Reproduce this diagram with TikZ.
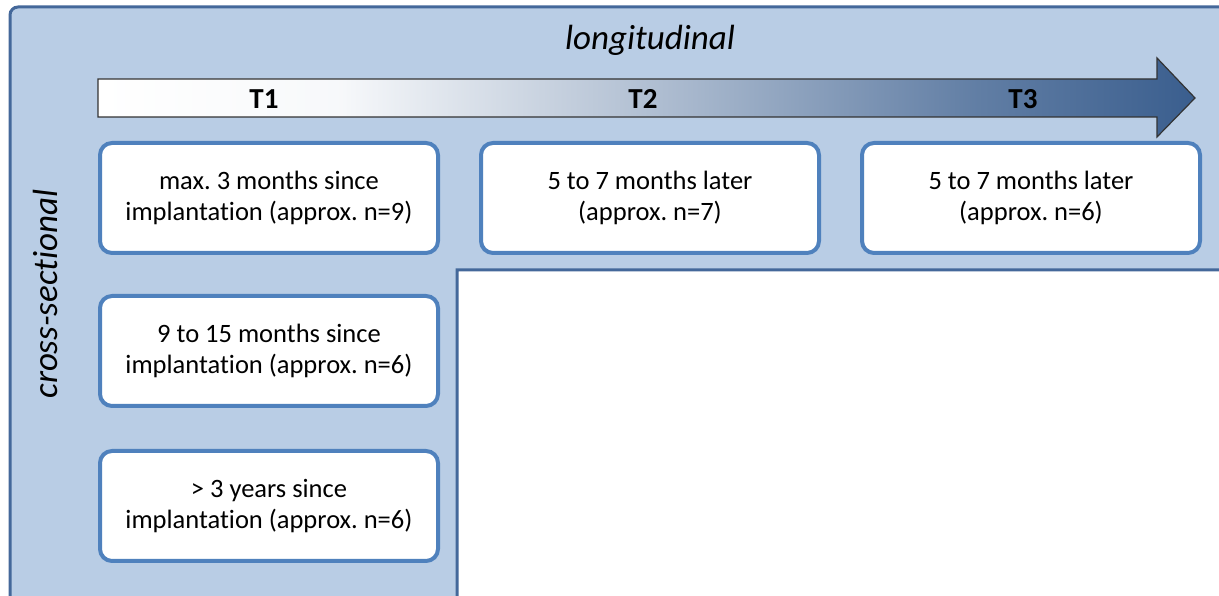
\documentclass[tikz,border=0pt]{standalone}
\usepackage{fontspec}
\setmainfont{Carlito}[Ligatures=NoCommon]
\frenchspacing
\definecolor{arrowdark}{HTML}{3A5E8E}
% colour stops sit between 25bp and 75bp, the part that spans the filled path
\pgfdeclarehorizontalshading{timeshade}{100bp}{%
  color(0bp)=(white); color(25bp)=(white); color(36bp)=(white!96!arrowdark);
  color(51bp)=(white!58!arrowdark); color(65bp)=(white!20!arrowdark);
  color(75bp)=(arrowdark); color(100bp)=(arrowdark)}
\begin{document}
\begin{tikzpicture}[x=1pt,y=1pt,
  panelfill/.style={fill=panelblue},
  stagebox/.style={draw=boxblue, line width=4pt, fill=white, rounded corners=12pt,
    minimum width=338pt, minimum height=110pt, align=center,
    font=\fontsize{26.5}{31}\selectfont, inner sep=0pt},
  tlabel/.style={font=\fontsize{29}{32}\selectfont\bfseries},
  axislabel/.style={font=\fontsize{35}{38}\selectfont\itshape}]
\definecolor{panelblue}{HTML}{B9CDE5}
\definecolor{panelline}{HTML}{44689A}
\definecolor{boxblue}{HTML}{4F81BD}
\useasboundingbox (0,0) rectangle (1219,596);
\begin{scope}
\clip (0,0) rectangle (1219,596);
% L-shaped background panel
\path[fill=white] (0,0) rectangle (1219,596);
\draw[panelfill, draw=panelline, line width=3pt]
  (1230,326) -- (457,326) -- (457,-10) -- (10,-10)
  [rounded corners=8pt] -- (10,589) -- (1230,589);
\end{scope}
% time arrow
\shade[shading=timeshade]
  (98,479) -- (98,517) -- (1157,517) -- (1157,538) -- (1195,498) -- (1157,459) -- (1157,479) -- cycle;
\draw[black!80, line width=1.2pt]
  (98,479) -- (98,517) -- (1157,517) -- (1157,538) -- (1195,498) -- (1157,459) -- (1157,479) -- cycle;
\node[tlabel] (t1) at (264,497) {T1};
\node[tlabel] (t2) at (643,497) {T2};
\node[tlabel] (t3) at (1023,497) {T3};
\node[axislabel] (long) at (650,556) {longitudinal};
\node[axislabel, rotate=90] (cross) at (45,302) {cross-sectional};
% stage boxes
\node[stagebox] (b1) at (269,398) {max. 3 months since\\implantation (approx. n=9)};
\node[stagebox] (b2) at (650,398) {5 to 7 months later\\(approx. n=7)};
\node[stagebox] (b3) at (1031,398) {5 to 7 months later\\(approx. n=6)};
\node[stagebox] (b4) at (269,245) {9 to 15 months since\\implantation (approx. n=6)};
\node[stagebox] (b5) at (269,90) {> 3 years since\\implantation (approx. n=6)};
\end{tikzpicture}
\end{document}
